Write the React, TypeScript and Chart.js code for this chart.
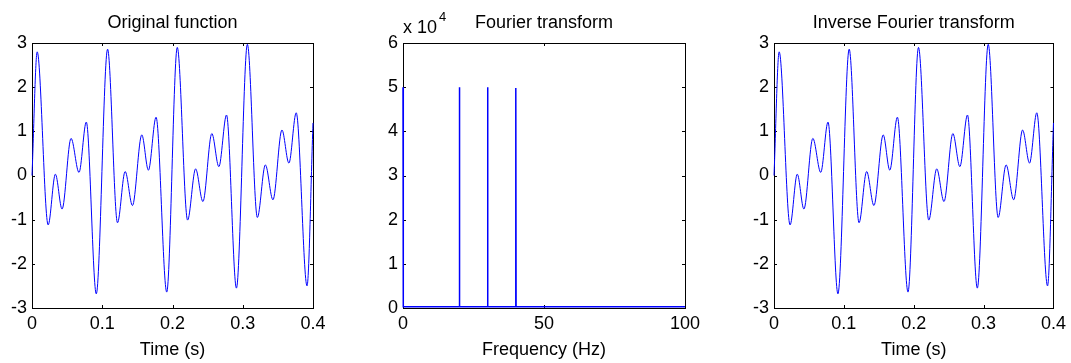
import { useEffect, useRef } from "react";
import { Chart, registerables } from "chart.js";
Chart.register(...registerables);

// ---- data ----
const timeS = [0, 0.0074, 0.023, 0.0333, 0.0428, 0.0556, 0.0669, 0.0773, 0.0915, 0.1076, 0.1217, 0.1326, 0.143, 0.1563, 0.1657, 0.1766, 0.1918, 0.2068, 0.2215, 0.2329, 0.2433, 0.256, 0.266, 0.2769, 0.291, 0.3066, 0.3208, 0.3322, 0.343, 0.3558, 0.3657, 0.3761, 0.3915, 0.4];
const originalSignal = [0, 2.8, -1.12, 0.03, -0.76, 0.84, 0.07, 1.21, -2.68, 2.86, -1.07, 0.09, -0.68, 0.92, 0.12, 1.32, -2.64, 2.9, -1.01, 0.15, -0.59, 0.95, 0.2, 1.37, -2.55, 2.97, -0.95, 0.24, -0.55, 1.03, 0.28, 1.42, -2.5, 1.19];
const inverseSignal = [0, 2.8, -1.12, 0.03, -0.76, 0.84, 0.07, 1.21, -2.68, 2.86, -1.07, 0.09, -0.68, 0.92, 0.12, 1.32, -2.64, 2.9, -1.01, 0.15, -0.59, 0.95, 0.2, 1.37, -2.55, 2.97, -0.95, 0.24, -0.55, 1.03, 0.28, 1.42, -2.5, 1.19];
const fftFreq = [0, 0.1, 19.9, 20, 20.1, 29.9, 30, 30.1, 39.9, 40, 40.1, 100];
const fftMag = [50000, 300, 300, 50000, 300, 300, 50000, 300, 300, 49800, 300, 300];

const timeTicks = [0, 0.1, 0.2, 0.3, 0.4];
const signalTicks = [-3, -2, -1, 0, 1, 2, 3];
const freqTicks = [0, 50, 100];
const magTicks = [0, 10000, 20000, 30000, 40000, 50000, 60000];

const FONT = "'Liberation Sans', Arial, sans-serif";
const W = 1071;
const H = 363;
const TOP = 43;
const BOTTOM = 308;

const matlabPlugin = {
  id: "matlabAxes",
  beforeDatasetsDraw(chart: any, _args: any, opts: any) {
    const { ctx, chartArea } = chart;
    const { left, right, top, bottom } = chartArea;
    ctx.save();
    ctx.strokeStyle = "#000";
    ctx.lineWidth = 1;
    const xs = chart.scales.x;
    const ys = chart.scales.y;
    const L = 3;
    ctx.beginPath();
    xs.ticks.forEach((t: any) => {
      const px = Math.round(xs.getPixelForValue(t.value)) + 0.5;
      ctx.moveTo(px, bottom);
      ctx.lineTo(px, bottom - L);
      ctx.moveTo(px, top);
      ctx.lineTo(px, top + L);
    });
    ys.ticks.forEach((t: any) => {
      const py = Math.round(ys.getPixelForValue(t.value)) + 0.5;
      ctx.moveTo(left, py);
      ctx.lineTo(left + L, py);
      ctx.moveTo(right, py);
      ctx.lineTo(right - L, py);
    });
    ctx.stroke();
    ctx.strokeRect(Math.round(left) + 0.5, Math.round(top) + 0.5, Math.round(right - left), Math.round(bottom - top));
    ctx.fillStyle = "#000";
    ctx.font = `18px ${FONT}`;
    ctx.textAlign = "center";
    ctx.textBaseline = "alphabetic";
    ctx.fillText(opts.title, (left + right) / 2, 28);
    if (opts.exponent) {
      ctx.textAlign = "left";
      ctx.fillText("x 10", left, 33);
      const w = ctx.measureText("x 10").width;
      ctx.font = `13px ${FONT}`;
      ctx.fillText(opts.exponent, left + w + 2, 21);
    }
    ctx.restore();
  },
};

function makeConfig(
  xVals: number[],
  yVals: number[],
  plotLeft: number,
  plotRight: number,
  xMin: number,
  xMax: number,
  xTicks: number[],
  yMin: number,
  yMax: number,
  yTicks: number[],
  xTitle: string,
  title: string,
  smooth: boolean,
  lineWidth: number,
  yFormat: (v: number) => string,
  exponent?: string
): any {
  return {
    type: "line",
    data: {
      datasets: [
        {
          data: xVals.map((x, i) => ({ x, y: yVals[i] })),
          borderColor: "#0000ff",
          borderWidth: lineWidth,
          pointRadius: 0,
          fill: false,
          tension: 0,
          clip: 2,
          cubicInterpolationMode: smooth ? "monotone" : "default",
        },
      ],
    },
    options: {
      responsive: false,
      animation: false,
      events: [],
      layout: {
        padding: { left: plotLeft - 30, right: W - plotRight, top: TOP, bottom: 0 },
      },
      plugins: {
        legend: { display: false },
        title: { display: false },
        tooltip: { enabled: false },
        matlabAxes: { title, exponent },
      },
      scales: {
        x: {
          type: "linear",
          min: xMin,
          max: xMax,
          grid: { display: false, drawTicks: false },
          border: { display: false },
          afterBuildTicks: (s: any) => {
            s.ticks = xTicks.map((v) => ({ value: v }));
          },
          afterFit: (s: any) => {
            s.height = H - BOTTOM;
          },
          ticks: {
            color: "#000",
            font: { family: FONT, size: 18 },
            padding: 5,
            maxRotation: 0,
            autoSkip: false,
            callback: (v: number) => String(v),
          },
          title: {
            display: true,
            text: xTitle,
            color: "#000",
            font: { family: FONT, size: 18 },
            padding: { top: 0, bottom: 2 },
          },
        },
        y: {
          type: "linear",
          min: yMin,
          max: yMax,
          grid: { display: false, drawTicks: false },
          border: { display: false },
          afterBuildTicks: (s: any) => {
            s.ticks = yTicks.map((v) => ({ value: v }));
          },
          afterFit: (s: any) => {
            s.width = 30;
          },
          ticks: {
            color: "#000",
            font: { family: FONT, size: 18 },
            padding: 5,
            autoSkip: false,
            callback: (v: number) => yFormat(v),
          },
        },
      },
    },
    plugins: [matlabPlugin],
  };
}

export default function App() {
  const c1 = useRef<HTMLCanvasElement>(null);
  const c2 = useRef<HTMLCanvasElement>(null);
  const c3 = useRef<HTMLCanvasElement>(null);

  useEffect(() => {
    const charts = [
      new Chart(
        c1.current!,
        makeConfig(timeS, originalSignal, 32, 313, 0, 0.4, timeTicks, -3, 3, signalTicks, "Time (s)", "Original function", true, 1, (v) => String(v))
      ),
      new Chart(
        c2.current!,
        makeConfig(fftFreq, fftMag, 403, 685, 0, 100, freqTicks, 0, 60000, magTicks, "Frequency (Hz)", "Fourier transform", false, 1.5, (v) => String(v / 10000), "4")
      ),
      new Chart(
        c3.current!,
        makeConfig(timeS, inverseSignal, 774, 1056, 0, 0.4, timeTicks, -3, 3, signalTicks, "Time (s)", "Inverse Fourier transform", true, 1, (v) => String(v))
      ),
    ];
    return () => charts.forEach((c) => c.destroy());
  }, []);

  const st: any = { position: "absolute", left: 0, top: 0, width: W, height: H };
  return (
    <div style={{ position: "fixed", left: 0, top: 0, width: W, height: H, background: "#fff" }}>
      <canvas ref={c1} width={W} height={H} style={st} />
      <canvas ref={c2} width={W} height={H} style={st} />
      <canvas ref={c3} width={W} height={H} style={st} />
    </div>
  );
}
